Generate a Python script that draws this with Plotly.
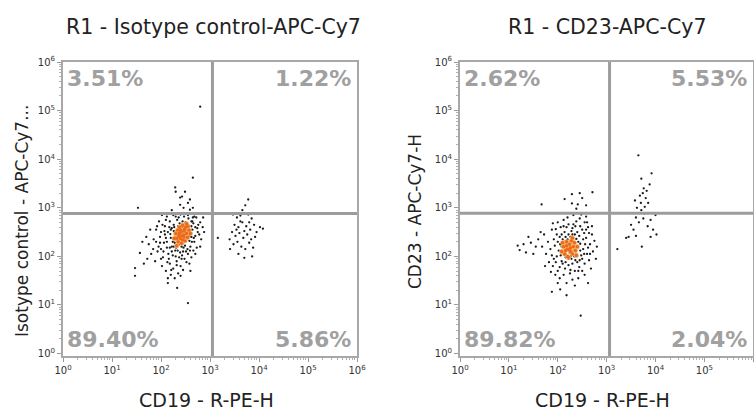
import plotly.graph_objects as go

# ---------------- data (log10 units of fluorescence) ----------------
iso_title = "R1 - Isotype control-APC-Cy7"
cd23_title = "R1 - CD23-APC-Cy7"
x_label = "CD19 - R-PE-H"
iso_ylabel = "Isotype control - APC-Cy7..."
cd23_ylabel = "CD23 - APC-Cy7-H"
iso_pct = ["3.51%", "1.22%", "89.40%", "5.86%"]   # UL, UR, LL, LR
cd23_pct = ["2.62%", "5.53%", "89.82%", "2.04%"]
iso_gate = (3.05, 2.88)   # log10 x, log10 y
cd23_gate = (3.06, 2.89)
decades = [0, 1, 2, 3, 4, 5, 6]

iso_main = [(2.05,2.10),(2.12,2.30),(2.20,2.55),(2.28,2.40),(2.35,2.62),(2.42,2.48),(2.50,2.70),(2.58,2.55),(2.65,2.80),(2.70,2.60),
(1.95,2.20),(2.00,1.95),(2.08,2.45),(2.15,2.05),(2.22,2.20),(2.30,2.00),(2.38,2.25),(2.45,2.10),(2.52,2.35),(2.60,2.20),
(2.18,1.85),(2.25,1.75),(2.32,1.90),(2.40,1.80),(2.48,1.95),(2.55,2.05),(2.62,2.40),(2.68,2.30),(2.75,2.50),(2.80,2.70),
(1.85,2.35),(1.90,2.55),(1.98,2.40),(2.03,2.65),(2.10,2.75),(2.17,2.60),(2.25,2.85),(2.33,2.75),(2.40,2.86),(2.47,2.82),
(2.55,2.85),(2.62,2.72),(2.72,2.80),(2.78,2.45),(2.85,2.60),(2.30,2.50),(2.36,2.35),(2.44,2.60),(2.26,2.65),(2.14,2.50),
(1.80,2.05),(1.75,2.25),(1.88,1.90),(1.93,2.10),(2.02,1.80),(2.10,1.70),(2.20,1.62),(2.35,1.65),(2.45,1.72),(2.58,1.85),
(2.66,2.12),(2.73,2.18),(2.82,2.35),(2.88,2.50),(2.50,2.45),(2.56,2.62),(2.34,2.12),(2.28,2.28),(2.20,2.38),(2.12,2.18),
(2.06,2.28),(2.00,2.50),(2.42,2.20),(2.48,2.30),(2.54,2.15),(2.64,2.55),(2.70,2.42),(2.76,2.65),(2.38,2.68),(2.30,2.82),
(2.08,2.62),(1.96,2.72),(1.90,2.30),(1.84,2.15),(2.24,2.02),(2.32,1.82),(2.42,1.95),(2.52,1.88),(2.62,1.98),(2.70,2.05),
(2.16,1.95),(2.10,2.38),(2.26,2.52),(2.40,2.40),(2.52,2.52),(2.66,2.68),(1.70,2.40),(1.72,1.95),(1.78,2.55),(2.00,2.15),
(2.04,1.98),(2.28,1.55),(2.40,1.60),(2.14,1.55),(2.60,1.70),(2.80,2.20),(2.86,2.80),(2.36,2.80),(2.44,2.72),(2.18,2.72),
(2.56,2.78),(2.02,2.85),(2.58,2.32),(2.46,2.18),(2.22,2.10),(2.34,2.44),(2.62,2.62),(2.68,2.82),(2.12,2.82),(1.92,2.62),
(2.24,2.30),(2.31,2.18),(2.39,2.08),(2.49,2.22),(2.57,2.42),(2.63,2.30),(2.19,2.46),(2.27,2.60),(2.53,2.58),(2.45,2.35),
(2.07,2.52),(2.13,1.88),(2.21,1.72),(2.29,2.12),(2.37,1.98),(2.43,2.02),(2.51,2.10),(2.59,2.12),(2.67,2.38),(2.74,2.58),
(2.18,2.18),(2.26,2.20),(2.33,2.30),(2.41,2.30),(2.48,2.40),(2.56,2.50),(2.64,2.72),(2.36,2.55),(2.22,2.58),(1.98,2.28)]

iso_sparse = [(2.80,5.08),(2.65,3.62),(2.29,3.42),(2.49,3.33),(2.59,3.17),(2.39,3.21),(2.43,3.23),(2.55,3.10),(2.59,2.96),
(1.53,3.00),(2.39,3.06),(2.30,3.33),(2.65,3.00),(2.22,2.95),(2.46,3.00),(1.47,1.76),(1.47,1.60),(1.57,2.07),(2.14,1.45),
(2.33,1.35),(2.55,1.04),(1.62,2.30),(1.65,1.85)]

iso_core = [(2.32,2.37),(2.37,2.47),(2.42,2.42),(2.47,2.52),(2.52,2.47),(2.40,2.54),(2.44,2.34),(2.50,2.60),(2.35,2.30),(2.30,2.47),
(2.54,2.39),(2.46,2.44),(2.38,2.60),(2.57,2.54),(2.27,2.37),(2.42,2.27),(2.49,2.32),(2.34,2.54),(2.60,2.47),(2.44,2.64),
(2.52,2.67),(2.32,2.22),(2.39,2.37),(2.47,2.40),(2.55,2.62),(2.41,2.50),(2.36,2.42),(2.48,2.56)]

iso_pos = [(3.47,2.86),(3.55,2.80),(3.62,2.84),(3.78,2.86),(3.85,2.78),(3.50,2.65),(3.58,2.60),(3.66,2.70),(3.74,2.62),(3.82,2.55),
(3.90,2.65),(3.45,2.50),(3.52,2.42),(3.60,2.48),(3.68,2.38),(3.76,2.45),(3.84,2.35),(3.95,2.50),(4.02,2.60),(3.40,2.35),
(3.48,2.25),(3.56,2.30),(3.64,2.20),(3.72,2.15),(3.80,2.28),(3.88,2.18),(3.58,2.05),(3.70,1.97),(3.62,2.72),(3.72,3.05),
(3.66,2.95),(3.78,3.17),(4.08,2.57),(3.16,2.38),(3.41,2.15),(3.86,2.00),(3.54,2.55),(3.80,2.70),(3.92,2.40),(3.70,2.52)]

cd23_main = [(1.90,1.80),(1.98,2.00),(2.05,2.25),(2.12,2.10),(2.20,2.35),(2.28,2.20),(2.35,2.45),(2.42,2.30),(2.50,2.55),(2.58,2.38),
(1.85,2.15),(1.92,2.35),(2.00,1.70),(2.08,1.90),(2.15,1.75),(2.22,1.95),(2.30,1.85),(2.38,2.05),(2.45,1.92),(2.52,2.15),
(2.60,2.05),(2.66,2.25),(2.70,2.45),(2.62,2.60),(2.55,2.70),(2.46,2.62),(2.38,2.72),(2.30,2.58),(2.22,2.66),(2.14,2.50),
(2.06,2.60),(1.98,2.45),(1.88,2.55),(1.80,2.30),(1.76,2.05),(1.82,1.88),(1.95,1.62),(2.04,1.55),(2.12,1.62),(2.25,1.65),
(2.35,1.70),(2.44,1.78),(2.55,1.85),(2.64,1.92),(2.72,2.10),(2.75,2.32),(2.18,2.25),(2.26,2.40),(2.34,2.28),(2.10,2.35),
(2.02,2.12),(1.94,2.22),(2.16,1.98),(2.24,2.08),(2.32,2.12),(2.40,2.18),(2.48,2.02),(2.56,2.25),(2.64,2.48),(2.40,2.50),
(2.20,2.80),(2.32,2.85),(2.45,2.78),(2.12,2.75),(2.00,2.70),(1.90,2.68),(1.72,2.45),(1.68,2.20),(1.74,1.80),(1.86,1.68),
(2.00,1.45),(2.18,1.45),(2.30,1.52),(2.42,1.55),(2.55,1.62),(2.68,1.75),(2.78,1.95),(2.80,2.20),(2.70,2.62),(2.58,2.82),
(2.36,2.62),(2.44,2.42),(2.52,2.35),(2.08,2.45),(2.00,2.30),(2.14,2.18),(2.22,1.82),(2.36,1.92),(2.50,1.70),(1.96,1.88),
(1.88,2.02),(2.06,2.02),(2.28,2.52),(2.18,2.60),(2.60,2.70),(2.66,2.05),(2.48,2.86),(2.26,1.72),(2.34,2.00),(2.10,1.85),
(2.04,2.40),(2.16,2.40),(2.28,1.95),(2.46,2.12),(2.54,2.48),(1.96,2.56),(2.40,1.88),(2.62,2.18),
(2.08,2.20),(2.14,2.30),(2.22,2.45),(2.30,2.45),(2.38,2.36),(2.46,2.26),(2.54,2.05),(2.42,1.70),(2.16,1.88),(2.04,1.78),
(1.92,1.95),(2.26,2.00),(2.50,1.95),(2.58,2.55),(2.32,2.66),(2.12,2.62)]

cd23_sparse = [(1.22,2.13),(1.30,2.25),(1.18,2.22),(1.35,2.08),(1.45,2.28),(1.55,2.20),(1.60,2.35),(1.50,2.05),(1.88,1.27),
(2.18,1.20),(2.47,0.78),(2.05,1.32),(2.35,1.40),(1.65,2.50),(1.40,2.40),(2.62,1.45),
(1.67,3.07),(2.14,3.18),(2.29,3.28),(2.45,3.30),(2.71,3.32),(2.29,3.09),(2.41,3.07),(2.58,3.05),(2.50,3.20),(2.38,2.98)]

cd23_core = [(2.14,2.05),(2.20,2.15),(2.26,2.10),(2.32,2.20),(2.24,2.25),(2.18,2.30),(2.30,2.05),(2.36,2.12),(2.12,2.20),(2.28,2.32),
(2.22,1.98),(2.34,2.28),(2.16,2.12),(2.40,2.20),(2.08,2.10),(2.26,2.18),(2.20,2.00),(2.30,2.38),(2.38,2.02),(2.10,2.28),
(2.24,2.14),(2.18,2.22)]

cd23_pos = [(3.65,4.08),(3.92,3.71),(3.71,3.60),(3.76,3.40),(3.74,3.30),(3.80,3.20),(3.70,3.10),(3.78,3.02),(3.82,3.35),(3.68,3.25),
(3.85,3.10),(3.62,3.00),(3.71,2.95),(3.60,2.80),(3.75,2.78),(3.90,2.75),(3.66,2.70),(3.84,2.62),(3.55,2.55),(3.45,2.40),
(3.60,2.42),(3.90,2.40),(4.02,2.45),(3.72,2.20),(3.22,2.15),(3.40,2.38),(3.95,2.55),(3.88,3.48),(3.78,2.88),(4.00,2.85),
(3.58,3.15),(3.50,2.65)]

# ---------------- figure ----------------
W, H = 754, 412
FONT = "DejaVu Sans"
GATE_COLOR = "#9c9c9c"
FRAME_COLOR = "#a8a8a8"

fig = go.Figure()

def add_pts(pts, xa, ya, color, size):
    fig.add_trace(go.Scatter(
        x=[10 ** p[0] for p in pts], y=[10 ** p[1] for p in pts],
        mode="markers", xaxis=xa, yaxis=ya, hoverinfo="skip",
        marker=dict(color=color, size=size, line=dict(width=0)),
        showlegend=False))

for main, sparse, pos, core, xa, ya in [
        (iso_main, iso_sparse, iso_pos, iso_core, "x", "y"),
        (cd23_main, cd23_sparse, cd23_pos, cd23_core, "x2", "y2")]:
    add_pts(main + sparse + pos, xa, ya, "#1a1a1a", 2.3)
    add_pts(core, xa, ya, "#f5b06a", 5)
    add_pts(core, xa, ya, "#ec6a1c", 3.4)

minor_vals = [k * 10 ** d for d in decades[:-1] for k in range(2, 10)]
tick_text = ["10<sup>%d</sup>" % d for d in decades]

def axis(domain, anchor, rng):
    return dict(type="log", domain=domain, anchor=anchor, range=rng, automargin=False,
                tickmode="array", tickvals=[10 ** d for d in decades], ticktext=tick_text,
                ticks="outside", ticklen=4, tickcolor="#999", tickwidth=1,
                tickfont=dict(family=FONT, size=10, color="#333"),
                showline=True, mirror=True, linecolor=FRAME_COLOR, linewidth=2,
                showgrid=False, zeroline=False,
                minor=dict(tickvals=minor_vals, ticks="outside", ticklen=2,
                           tickcolor="#b0b0b0", showgrid=False))

yd = [1 - 356 / H, 1 - 62 / H]
fig.update_layout(
    template="none",
    width=W, height=H, margin=dict(l=0, r=0, t=0, b=0, autoexpand=False),
    paper_bgcolor="white", plot_bgcolor="white",
    xaxis=axis([63 / W, 357 / W], "y", [0, 6]),
    yaxis=axis(yd, "x", [-0.05, 6]),
    xaxis2=axis([460 / W, 0.999], "y2", [0, 6]),
    yaxis2=axis(yd, "x2", [-0.05, 6]),
)

# quadrant gates
for (gx, gy), xa, ya in [(iso_gate, "x", "y"), (cd23_gate, "x2", "y2")]:
    fig.add_shape(type="line", xref=xa, yref=ya, x0=10 ** gx, x1=10 ** gx,
                  y0=10 ** -0.05, y1=10 ** 6, line=dict(color=GATE_COLOR, width=3))
    fig.add_shape(type="line", xref=xa, yref=ya, x0=1, x1=10 ** 6,
                  y0=10 ** gy, y1=10 ** gy, line=dict(color=GATE_COLOR, width=3))

# percentages
for pcts, xa, ya in [(iso_pct, "x", "y"), (cd23_pct, "x2", "y2")]:
    spots = [(0, 6, "left", "top"), (6, 6, "right", "top"),
             (0, -0.05, "left", "bottom"), (6, -0.05, "right", "bottom")]
    for t, (px, py, xan, yan) in zip(pcts, spots):
        fig.add_annotation(x=px, y=py, xref=xa, yref=ya, text="<b>%s</b>" % t,
                           showarrow=False, xanchor=xan, yanchor=yan,
                           xshift=2 if xan == "left" else -4,
                           yshift=-2 if yan == "top" else 2,
                           font=dict(family=FONT, size=22, color="#a0a0a0"))

def label(text, px, py, size, angle=0):
    fig.add_annotation(x=px / W, y=1 - py / H, xref="paper", yref="paper",
                       text=text, showarrow=False, textangle=angle,
                       xanchor="center", yanchor="middle",
                       font=dict(family=FONT, size=size, color="#222"))

label(iso_title, 214, 27, 20.5)
label(cd23_title, 607, 27, 20.5)
label(x_label, 206, 400, 19)
label(x_label, 602, 400, 19)
label(iso_ylabel, 22, 221, 17, -90)
label(cd23_ylabel, 415, 212, 17, -90)

fig.write_html("out.html", config={"displayModeBar": False},
               post_script="document.body.style.margin='0px';document.body.style.overflow='hidden';")
